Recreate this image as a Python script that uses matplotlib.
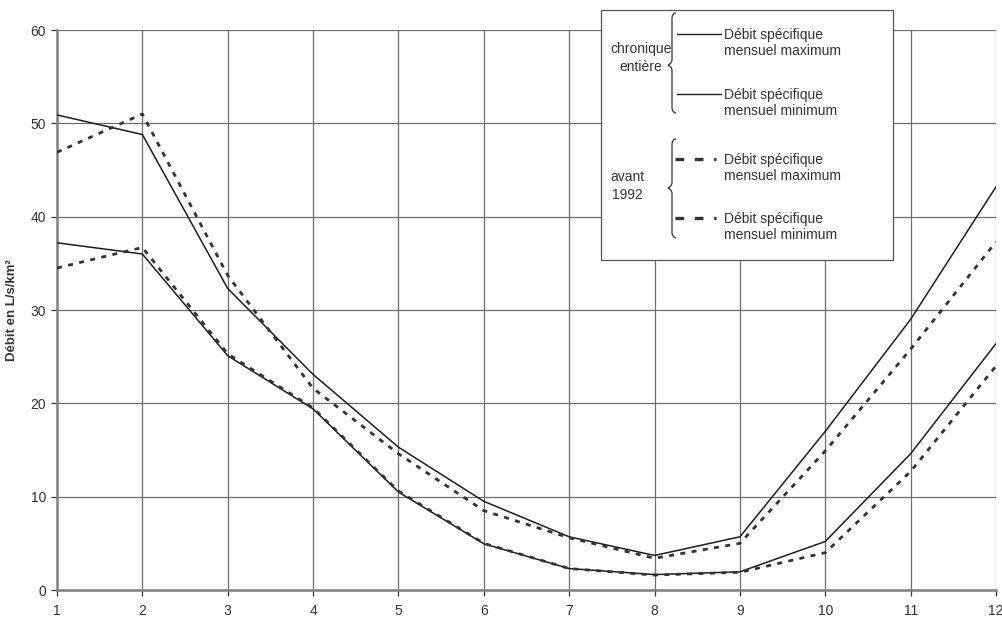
import matplotlib
matplotlib.use("Agg")
import matplotlib.pyplot as plt
from matplotlib.path import Path
from matplotlib.patches import PathPatch, Rectangle
from matplotlib.lines import Line2D

plt.rcParams['font.family'] = ['Liberation Sans', 'DejaVu Sans']

months = [1, 2, 3, 4, 5, 6, 7, 8, 9, 10, 11, 12]
max_entiere = [50.9, 48.8, 32.3, 23.1, 15.3, 9.5, 5.7, 3.7, 5.7, 17.0, 29.0, 43.2]
min_entiere = [37.2, 36.0, 25.1, 19.4, 10.5, 4.95, 2.3, 1.65, 1.95, 5.2, 14.6, 26.4]
max_avant = [46.9, 51.0, 33.7, 21.6, 14.6, 8.5, 5.6, 3.4, 5.0, 14.9, 25.8, 37.3]
min_avant = [34.5, 36.7, 25.3, 19.5, 10.6, 5.0, 2.3, 1.6, 1.9, 4.0, 12.7, 24.0]
y_ticks = [0, 10, 20, 30, 40, 50, 60]
ylabel = "Débit en L/s/km²"
legend_line1 = "Débit spécifique\nmensuel maximum"
legend_line2 = "Débit spécifique\nmensuel minimum"
group1 = "chronique\nentière"
group2 = "avant\n1992"

W, H = 1002, 617
fig = plt.figure(figsize=(W / 100, H / 100), dpi=100)
ax = fig.add_axes([57 / W, (H - 590) / H, (996 - 57) / W, (590 - 30) / H])

gridc = '#6e6e6e'
for yv in y_ticks[1:]:
    ax.axhline(yv, color=gridc, lw=0.9, zorder=1)
for xv in months[1:]:
    ax.axvline(xv, color=gridc, lw=0.9, zorder=1)

ax.plot(months, max_entiere, color='#1e1e1e', lw=1.1, zorder=3)
ax.plot(months, min_entiere, color='#1e1e1e', lw=1.1, zorder=3)
ax.plot(months, max_avant, color='#333333', lw=2.0, dashes=(1.8, 2.3), zorder=3)
ax.plot(months, min_avant, color='#333333', lw=2.0, dashes=(1.8, 2.3), zorder=3)

ax.set_xlim(1, 12)
ax.set_ylim(0, 60)
ax.set_xticks(months)
ax.set_yticks(y_ticks)
ax.tick_params(axis='both', labelsize=10, colors='#333333', length=4, width=0.9, direction='out')
ax.tick_params(axis='y', pad=4)
ax.tick_params(axis='x', pad=6)
for s in ['top', 'right']:
    ax.spines[s].set_visible(False)
for s in ['left', 'bottom']:
    ax.spines[s].set_color('#808080')
    ax.spines[s].set_linewidth(1.8)
ax.set_ylabel(ylabel, fontsize=9.5, fontweight='bold', color='#333333')
ax.yaxis.set_label_coords((18 - 57) / (996 - 57), 0.5)

# ---- custom legend in figure pixel coords ----
def fx(x):
    return x / W

def fy(y):
    return (H - y) / H

box = Rectangle((fx(601), fy(260)), fx(893) - fx(601), fy(10) - fy(260),
                transform=fig.transFigure, facecolor='white', edgecolor='#555555',
                lw=0.9, zorder=10)
fig.add_artist(box)

def brace(x, ytop, ybot, ymid, w=8):
    xr = x + w
    xm = x + w / 2
    verts = [
        (xr, ytop), (xm, ytop), (xm, ytop + 6),
        (xm, ymid - 6),
        (xm, ymid - 1), (x, ymid), (x, ymid),
        (x, ymid), (xm, ymid + 1), (xm, ymid + 6),
        (xm, ybot - 6),
        (xm, ybot), (xr, ybot), (xr, ybot),
    ]
    codes = [Path.MOVETO, Path.CURVE3, Path.CURVE3,
             Path.LINETO,
             Path.CURVE4, Path.CURVE4, Path.CURVE4,
             Path.CURVE4, Path.CURVE4, Path.CURVE4,
             Path.LINETO,
             Path.CURVE4, Path.CURVE4, Path.CURVE4]
    verts = [(fx(a), fy(b)) for a, b in verts]
    p = PathPatch(Path(verts, codes), transform=fig.transFigure, facecolor='none',
                  edgecolor='#333333', lw=0.9, zorder=11)
    fig.add_artist(p)

brace(668, 13, 113, 65)
brace(668, 139, 238, 188)

tkw = dict(fontsize=10, color='#333333', zorder=12, transform=fig.transFigure)
fig.text(fx(641), fy(58), group1, ha='center', va='center', linespacing=1.35, **tkw)
fig.text(fx(627), fy(186), group2, ha='center', va='center', linespacing=1.35, **tkw)

entries = [(34, False, legend_line1), (94, False, legend_line2),
           (159, True, legend_line1), (218, True, legend_line2)]
for yy, dashed, lab in entries:
    if dashed:
        ln = Line2D([fx(675), fx(716)], [fy(yy), fy(yy)], transform=fig.transFigure,
                    color='#333333', lw=2.4, dashes=(2.6, 3.2), zorder=12)
    else:
        ln = Line2D([fx(677), fx(721)], [fy(yy), fy(yy)], transform=fig.transFigure,
                    color='#222222', lw=1.0, zorder=12)
    fig.add_artist(ln)
    fig.text(fx(724), fy(yy + 9), lab, ha='left', va='center', linespacing=1.2, **tkw)

fig.savefig('out.png', dpi=100)
